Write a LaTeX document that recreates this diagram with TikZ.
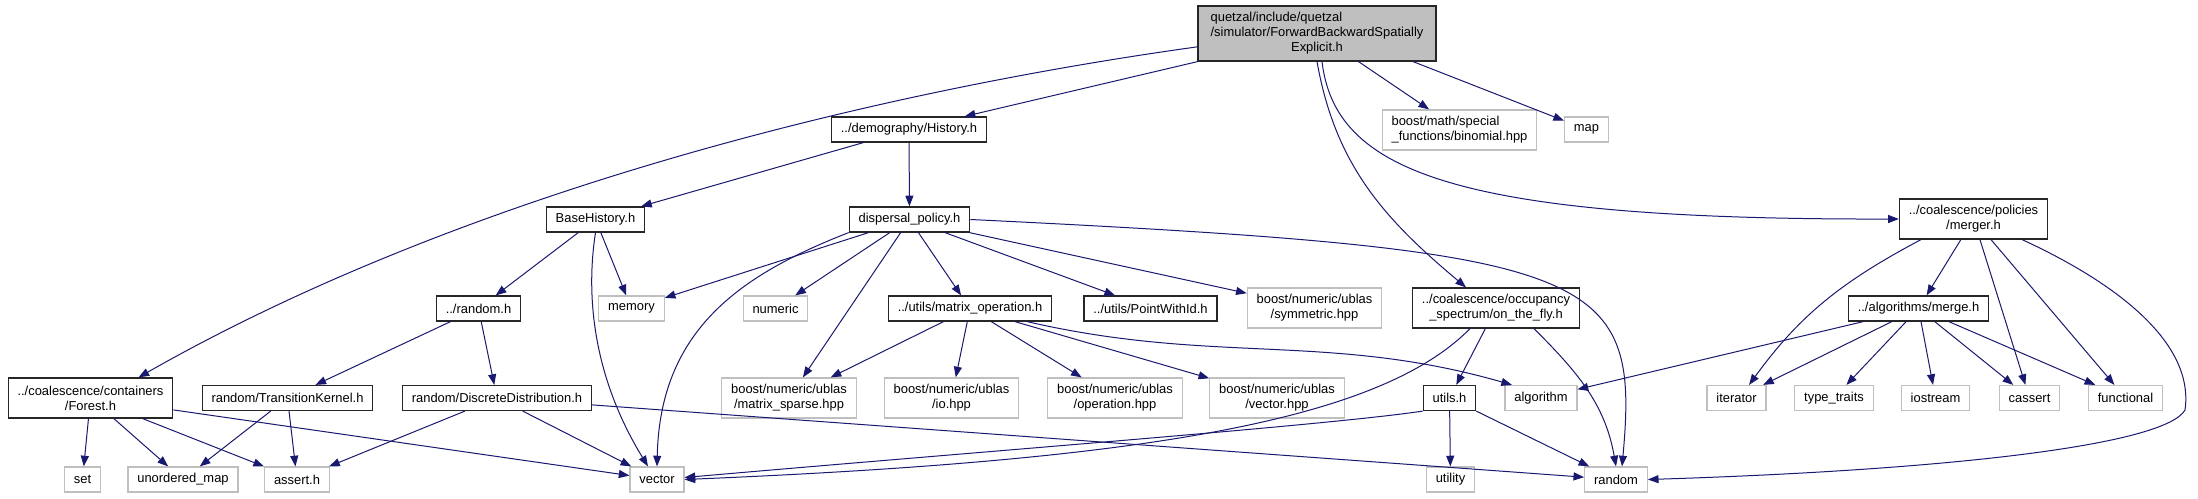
\documentclass[tikz,border=0pt]{standalone}
\usepackage{fontspec}
\setmainfont{Liberation Sans}
\usetikzlibrary{arrows.meta}

\definecolor{edgeblue}{RGB}{25,25,112}
\definecolor{boxgrey}{RGB}{191,191,191}

\begin{document}
\begin{tikzpicture}[
x=0.75pt, y=0.75pt,
box/.style={draw, minimum height=18.75pt, inner xsep=7pt, inner ysep=1pt, align=center, line width=0.9pt, font=\fontsize{9.7}{11.25}\selectfont},
doc/.style={box, draw=black!85},
sys/.style={box, draw=boxgrey},
two/.style={minimum height=30pt},
incl/.style={-{Triangle[length=8pt,width=6pt]}, draw=edgeblue, line width=0.75pt}
]
\path[fill=white] (0,0) rectangle (2198,-499);

% top file
\node[doc, fill=boxgrey, minimum width=178.5pt, minimum height=41.25pt] (fbse) at (1317,-33.5)
  {\begin{tabular}{@{}l@{}}quetzal/include/quetzal\\/simulator/ForwardBackwardSpatially\\\multicolumn{1}{@{}c@{}}{Explicit.h}\end{tabular}};

\node[doc] (history) at (909,-129.5) {../demography/History.h};
\node[sys, two, align=left] (binomial) at (1459.5,-130) {boost/math/special\\\_functions/binomial.hpp};
\node[sys] (map) at (1586.5,-129.5) {map};

\node[doc] (basehist) at (595.5,-219.5) {BaseHistory.h};
\node[doc] (dispersal) at (909.5,-219.5) {dispersal\_policy.h};
\node[doc, two] (merger) at (1973.5,-219) {../coalescence/policies\\/merger.h};

\node[doc] (randomh) at (478.5,-308.5) {../random.h};
\node[sys] (memory) at (631.5,-308.5) {memory};
\node[sys] (numeric) at (775.5,-308.5) {numeric};
\node[doc] (matop) at (970,-308.5) {../utils/matrix\_operation.h};
\node[doc] (pointid) at (1150.5,-308.5) {../utils/PointWithId.h};
\node[sys, two] (symmetric) at (1314.5,-308) {boost/numeric/ublas\\/symmetric.hpp};
\node[doc, two] (occupancy) at (1496,-308) {../coalescence/occupancy\\\_spectrum/on\_the\_fly.h};
\node[doc] (merge) at (1918.5,-308.5) {../algorithms/merge.h};

\node[doc, two] (forest) at (90.5,-398) {../coalescence/containers\\/Forest.h};
\node[doc] (kernel) at (287.5,-398) {random/TransitionKernel.h};
\node[doc] (discrete) at (497,-398) {random/DiscreteDistribution.h};
\node[sys, two] (sparse) at (789,-398) {boost/numeric/ublas\\/matrix\_sparse.hpp};
\node[sys, two] (io) at (951.5,-398) {boost/numeric/ublas\\/io.hpp};
\node[sys, two] (operation) at (1115,-398) {boost/numeric/ublas\\/operation.hpp};
\node[sys, two] (vechpp) at (1277,-398) {boost/numeric/ublas\\/vector.hpp};
\node[doc] (utils) at (1449.5,-398) {utils.h};
\node[sys] (algorithm) at (1541,-398) {algorithm};
\node[sys] (iterator) at (1736.5,-398) {iterator};
\node[sys] (typetraits) at (1834,-398) {type\_traits};
\node[sys] (iostream) at (1935.5,-398) {iostream};
\node[sys] (cassert) at (2029.5,-398) {cassert};
\node[sys] (functional) at (2125.5,-398) {functional};

\node[sys] (set) at (82.5,-479.5) {set};
\node[sys] (umap) at (183,-479.5) {unordered\_map};
\node[sys] (asserth) at (297,-479.5) {assert.h};
\node[sys] (vector) at (657,-479.5) {vector};
\node[sys] (utility) at (1450.5,-479.5) {utility};
\node[sys] (random) at (1616,-479.5) {random};

% includes
\draw[incl] ([yshift=-10pt]fbse.west) .. controls (850,-95) and (450,-200) .. ([xshift=36pt]forest.north);
\draw[incl] (fbse) -- (history);
\draw[incl] (fbse) -- (binomial);
\draw[incl] ([xshift=72pt]fbse.south) -- (map);
\draw[incl] ([xshift=3.75pt]fbse.south) .. controls (1335,-170) and (1450,-220) .. (merger.west);
\draw[incl] (fbse.south) to[out=-80,in=140] ([xshift=-22.5pt]occupancy.north);

\draw[incl] (history) -- (basehist);
\draw[incl] (history) -- (dispersal);

\draw[incl] (basehist) -- (randomh);
\draw[incl] (basehist) -- (memory);
\draw[incl] (basehist.south) .. controls (585,-300) and (595,-380) .. ([xshift=-6.75pt]vector.north);

\draw[incl] (dispersal) -- (memory);
\draw[incl] (dispersal) -- (numeric);
\draw[incl] (dispersal) -- (sparse);
\draw[incl] (dispersal) -- (matop);
\draw[incl] (dispersal) -- (pointid);
\draw[incl] (dispersal) -- (symmetric);
\draw[incl] (dispersal.south west) .. controls (740,-275) and (660,-330) .. (vector.north);
\draw[incl] (dispersal.east) .. controls (1600,-250) and (1640,-270) .. ([xshift=4.5pt]random.north);

\draw[incl] (randomh) -- (kernel);
\draw[incl] (randomh) -- (discrete);

\draw[incl] (forest) -- (set);
\draw[incl] (forest) -- (umap);
\draw[incl] (forest) -- (asserth);
\draw[incl] (forest) -- (vector);
\draw[incl] (kernel) -- (umap);
\draw[incl] (kernel) -- (asserth);
\draw[incl] (discrete) -- (asserth);
\draw[incl] (discrete) -- (vector);
\draw[incl] (discrete) -- (random);

\draw[incl] (matop) -- (sparse);
\draw[incl] (matop) -- (io);
\draw[incl] (matop) -- (operation);
\draw[incl] (matop) -- (vechpp);
\draw[incl] ([xshift=42.75pt]matop.south) to[out=-13,in=164] ([xshift=-21.75pt]algorithm.north);

\draw[incl] (occupancy) -- (utils);
\draw[incl] ([xshift=-19.5pt]occupancy.south) .. controls (1380,-420) and (1150,-460) .. (vector.east);
\draw[incl] ([xshift=28.5pt]occupancy.south) to[out=-45,in=100] (random.north);

\draw[incl] (utils) -- (utility);
\draw[incl] (utils.south west) .. controls (1330,-425) and (1000,-450) .. ([yshift=1.5pt]vector.east);
\draw[incl] (utils) -- (random);

\draw[incl] ([xshift=-39.4pt]merger.south) to[out=-152,in=54] ([xshift=9.4pt]iterator.north);
\draw[incl] (merger) -- (merge);
\draw[incl] (merger) -- (cassert);
\draw[incl] (merger) -- (functional);
\draw[incl] ([xshift=36.4pt]merger.south) .. controls (2110,-280) and (2195,-340) .. (2185,-410)
  .. controls (2165,-445) and (1950,-470) .. (random.east);

\draw[incl] (merge) -- (algorithm);
\draw[incl] (merge) -- (iterator);
\draw[incl] (merge) -- (typetraits);
\draw[incl] (merge) -- (iostream);
\draw[incl] (merge) -- (cassert);
\draw[incl] (merge) -- (functional);
\end{tikzpicture}
\end{document}
